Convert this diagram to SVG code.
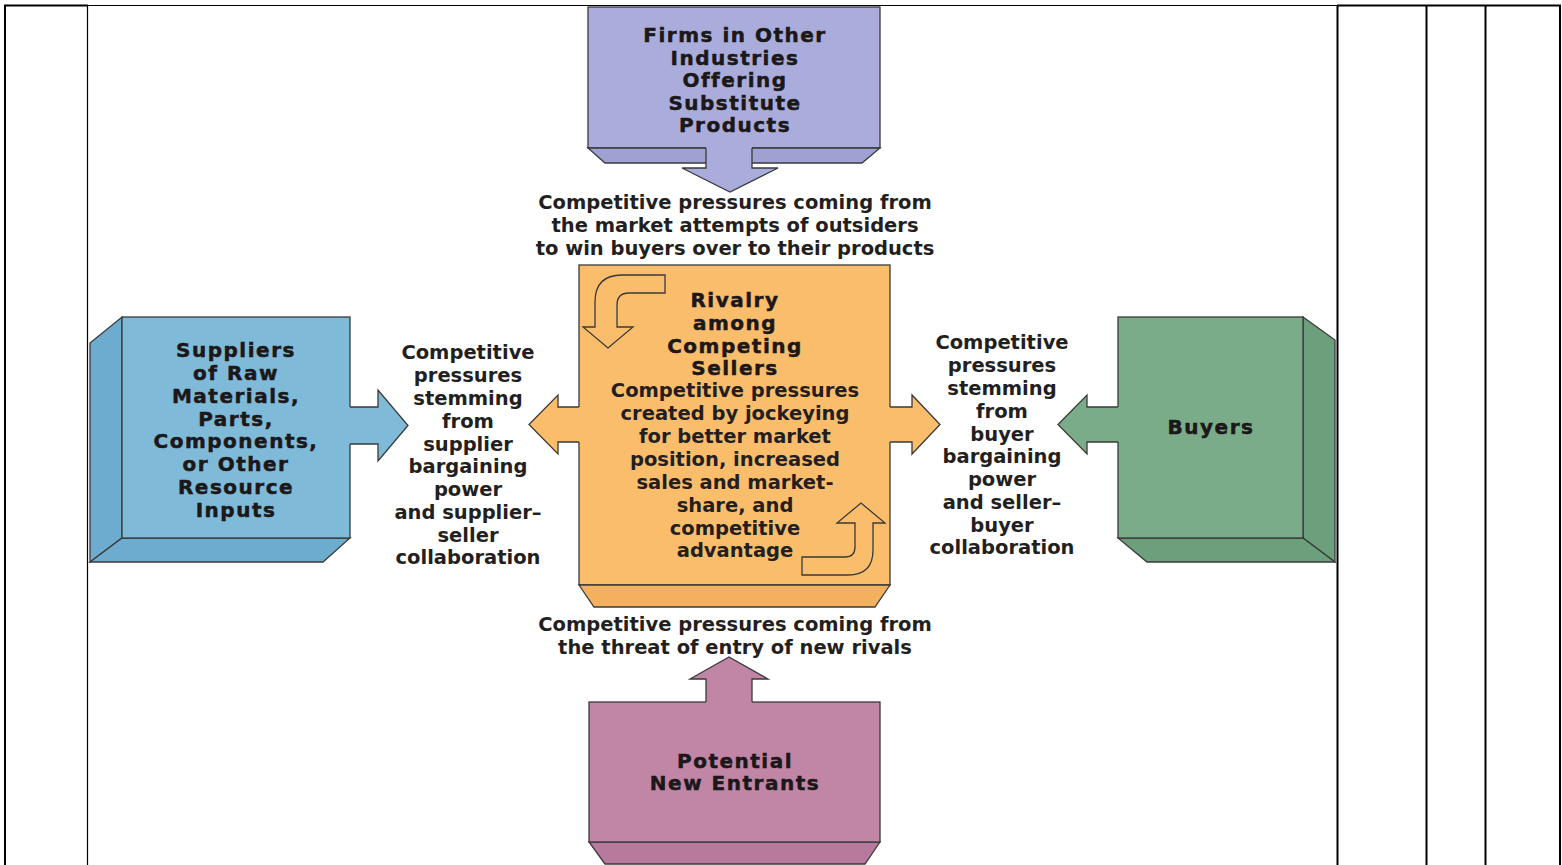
<svg xmlns="http://www.w3.org/2000/svg" width="1562" height="865" viewBox="0 0 1562 865">
<style>
.edge{stroke:#3a3a3a;stroke-width:1.3;stroke-linejoin:miter}
.nofill{fill:none}
.pur{fill:#aaaddb}.purd{fill:#9ea1d1}
.blu{fill:#7fbad9}.blud{fill:#6eaccf}
.org{fill:#fabd6c}.orgd{fill:#f3b160}
.grn{fill:#7aac89}.grnd{fill:#6c9f7c}
.pnk{fill:#c186a6}.pnkd{fill:#b87a9c}
.t{font-family:"DejaVu Sans","Liberation Sans",sans-serif;font-weight:bold;font-size:20px;letter-spacing:1.5px;fill:#1c1819;stroke:#1c1819;stroke-width:0.5;text-anchor:middle}
.d{font-family:"DejaVu Sans","Liberation Sans",sans-serif;font-weight:bold;font-size:19.5px;fill:#231f20;text-anchor:middle}
.tb{stroke:#000;fill:none}
</style>

<g id="table">
<line class="tb" x1="4" y1="5.5" x2="88" y2="5.5" stroke-width="2"/>
<line class="tb" x1="88" y1="5.5" x2="1337" y2="5.5" stroke-width="1.2"/>
<line class="tb" x1="1337" y1="5.5" x2="1561" y2="5.5" stroke-width="2"/>
<line class="tb" x1="5" y1="5" x2="5" y2="865" stroke-width="2"/>
<line class="tb" x1="87.5" y1="5" x2="87.5" y2="865" stroke-width="1.2"/>
<line class="tb" x1="1337.5" y1="5" x2="1337.5" y2="865" stroke-width="2"/>
<line class="tb" x1="1426.5" y1="5" x2="1426.5" y2="865" stroke-width="2"/>
<line class="tb" x1="1485.5" y1="5" x2="1485.5" y2="865" stroke-width="2"/>
<line class="tb" x1="1560" y1="5" x2="1560" y2="865" stroke-width="2"/>
</g>

<g id="substitutes">
<rect class="pur edge" x="588" y="7" width="292" height="141"/>
<polygon class="purd edge" points="588,148 880,148 862,163 605,163"/>
<text class="t" x="735" y="42">Firms in Other</text>
<text class="t" x="735" y="64.5">Industries</text>
<text class="t" x="735" y="87">Offering</text>
<text class="t" x="735" y="109.5">Substitute</text>
<text class="t" x="735" y="132">Products</text>
</g>

<g id="suppliers">
<polygon class="blud edge" points="90,343 122,317 122,538 90,562"/>
<polygon class="blud edge" points="122,538 350,538 323,562 90,562"/>
<rect class="blu edge" x="122" y="317" width="228" height="221"/>
<text class="t" x="236" y="357">Suppliers</text>
<text class="t" x="236" y="380">of Raw</text>
<text class="t" x="236" y="402.5">Materials,</text>
<text class="t" x="236" y="425.5">Parts,</text>
<text class="t" x="236" y="448">Components,</text>
<text class="t" x="236" y="471">or Other</text>
<text class="t" x="236" y="494">Resource</text>
<text class="t" x="236" y="516.5">Inputs</text>
</g>

<g id="rivalry">
<rect class="org edge" x="579" y="265" width="311" height="320"/>
<polygon class="orgd edge" points="579,585 890,585 875,607 594,607"/>
<path class="org edge" d="M665,275 L622,275 Q595,275 595,302 L595,327 L583,327 L608,348 L633,327 L617,327 L617,305 Q617,293 629,293 L665,293 Z"/>
<path class="org edge" d="M802,557 L845,557 Q855,557 855,547 L855,523 L837,523 L861,503 L885,523 L873,523 L873,550 Q873,575 848,575 L802,575 Z"/>
<text class="t" x="735" y="306.5">Rivalry</text>
<text class="t" x="735" y="329.5">among</text>
<text class="t" x="735" y="352.5">Competing</text>
<text class="t" x="735" y="375">Sellers</text>
<text class="d" x="735" y="397">Competitive pressures</text>
<text class="d" x="735" y="420">created by jockeying</text>
<text class="d" x="735" y="443">for better market</text>
<text class="d" x="735" y="466">position, increased</text>
<text class="d" x="735" y="488.5">sales and market-</text>
<text class="d" x="735" y="511.5">share, and</text>
<text class="d" x="735" y="534.5">competitive</text>
<text class="d" x="735" y="557">advantage</text>
</g>

<g id="buyers">
<polygon class="grnd edge" points="1303,317 1335,340 1335,562 1303,538"/>
<polygon class="grnd edge" points="1118,538 1303,538 1335,562 1147,562"/>
<rect class="grn edge" x="1118" y="317" width="185" height="221"/>
<text class="t" x="1211" y="434">Buyers</text>
</g>

<g id="entrants">
<polygon class="pnkd edge" points="589,842 880,842 865,864 605,864"/>
<rect class="pnk edge" x="589" y="702" width="291" height="140"/>
<text class="t" x="735" y="767.5">Potential</text>
<text class="t" x="735" y="790">New Entrants</text>
</g>

<g id="connectors">
<path class="pur" d="M706,146 L706,168 L682,168 L730,192 L778,168 L752,168 L752,146 Z"/>
<polyline class="edge nofill" points="706,148 706,168 682,168 730,192 778,168 752,168 752,148"/>
<path class="blu" d="M348,407 L378,407 L378,390 L408,425.5 L378,461 L378,444 L348,444 Z"/>
<polyline class="edge nofill" points="350,407 378,407 378,390 408,425.5 378,461 378,444 350,444"/>
<path class="org" d="M581,407 L558,407 L558,395 L529,424.5 L558,454 L558,442 L581,442 Z"/>
<polyline class="edge nofill" points="579,407 558,407 558,395 529,424.5 558,454 558,442 579,442"/>
<path class="org" d="M888,407 L912,407 L912,395 L940,424.5 L912,454 L912,442 L888,442 Z"/>
<polyline class="edge nofill" points="890,407 912,407 912,395 940,424.5 912,454 912,442 890,442"/>
<path class="grn" d="M1120,407 L1087,407 L1087,395 L1058,424.5 L1087,454 L1087,442 L1120,442 Z"/>
<polyline class="edge nofill" points="1118,407 1087,407 1087,395 1058,424.5 1087,454 1087,442 1118,442"/>
<path class="pnk" d="M706,704 L706,679 L690,679 L729,657 L768,679 L752,679 L752,704 Z"/>
<polyline class="edge nofill" points="706,702 706,679 690,679 729,657 768,679 752,679 752,702"/>
</g>

<g id="labels">
<text class="d" x="735" y="209">Competitive pressures coming from</text>
<text class="d" x="735" y="232">the market attempts of outsiders</text>
<text class="d" x="735" y="255">to win buyers over to their products</text>
<text class="d" x="468" y="359">Competitive</text>
<text class="d" x="468" y="382">pressures</text>
<text class="d" x="468" y="404.5">stemming</text>
<text class="d" x="468" y="427.5">from</text>
<text class="d" x="468" y="450.5">supplier</text>
<text class="d" x="468" y="473">bargaining</text>
<text class="d" x="468" y="496">power</text>
<text class="d" x="468" y="519">and supplier–</text>
<text class="d" x="468" y="541.5">seller</text>
<text class="d" x="468" y="564">collaboration</text>
<text class="d" x="1002" y="349">Competitive</text>
<text class="d" x="1002" y="372">pressures</text>
<text class="d" x="1002" y="394.5">stemming</text>
<text class="d" x="1002" y="417.5">from</text>
<text class="d" x="1002" y="440.5">buyer</text>
<text class="d" x="1002" y="463">bargaining</text>
<text class="d" x="1002" y="486">power</text>
<text class="d" x="1002" y="509">and seller–</text>
<text class="d" x="1002" y="531.5">buyer</text>
<text class="d" x="1002" y="554">collaboration</text>
<text class="d" x="735" y="631">Competitive pressures coming from</text>
<text class="d" x="735" y="654">the threat of entry of new rivals</text>
</g>
</svg>
